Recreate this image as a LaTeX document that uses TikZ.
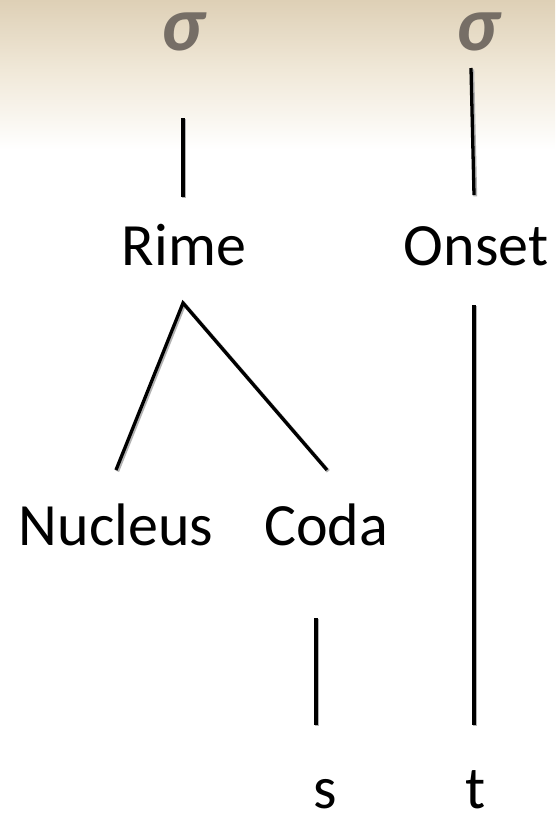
\documentclass[tikz,border=0pt]{standalone}
\usepackage{fontspec}
\setmainfont{Carlito}
\usetikzlibrary{calc}
\definecolor{parch}{RGB}{222,208,182}
\definecolor{parchmid}{RGB}{240,232,216}
\definecolor{sigmagrey}{RGB}{118,110,102}
\tikzset{
  lbl/.style={anchor=base, inner sep=0pt, font=\fontsize{60}{62}\selectfont, text=black},
  syl/.style={anchor=base, inner sep=0pt, font=\fontsize{78}{80}\selectfont\bfseries\itshape, text=sigmagrey},
  edge/.style={line width=3.3pt, black,
    preaction={draw=black!30, line width=3.8pt, transform canvas={xshift=1.3pt, yshift=-1.3pt}}}
}
\begin{document}
\begin{tikzpicture}[x=1pt, y=-1pt]
  % page and parchment band along the top
  \useasboundingbox (0,0) rectangle (555,817);
  \fill[white] (0,0) rectangle (555,817);
  \shade[top color=parch, bottom color=parchmid] (0,0) rectangle (555,70);
  \shade[top color=parchmid, bottom color=white] (0,70) rectangle (555,150);

  % syllable tree
  \node[syl] (sigma1) at (183,50) {σ};
  \node[syl] (sigma2) at (478,50) {σ};
  \node[lbl] (rime) at (184,265) {Rime};
  \node[lbl] (onset) at (476,265) {Onset};
  \node[lbl] (nucleus) at (116,545) {Nucleus};
  \node[lbl] (coda) at (326,545) {Coda};
  \node[lbl] (s) at (325,808) {s};
  \node[lbl] (t) at (476,808) {t};

  % branches
  \draw[edge] ([yshift=-68pt]sigma1.base) -- ([xshift=-1pt,yshift=68pt]rime.base);
  \draw[edge] ([xshift=-7pt,yshift=-18pt]sigma2.base) -- ([xshift=-2pt,yshift=70pt]onset.base);
  \draw[edge] ([xshift=0pt,yshift=75pt]nucleus.base) -- ([xshift=-1pt,yshift=-38pt]rime.base)
              -- ([xshift=1pt,yshift=75pt]coda.base);
  \draw[edge] ([xshift=-2pt,yshift=-40pt]onset.base) -- ([xshift=-2pt,yshift=83pt]t.base);
  \draw[edge] ([xshift=-10pt,yshift=-73pt]coda.base) -- ([xshift=-9pt,yshift=83pt]s.base);
\end{tikzpicture}
\end{document}
